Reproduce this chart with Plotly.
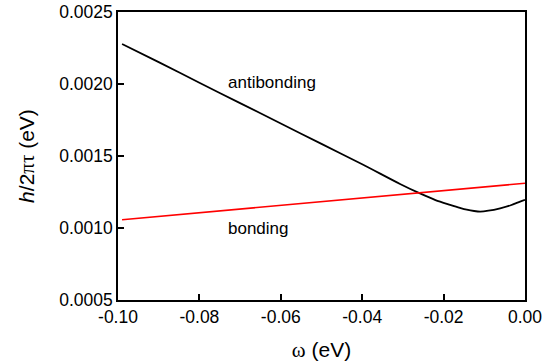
import plotly.graph_objects as go

# antibonding (black) curve
omega_anti = [-0.099, -0.09, -0.08, -0.07, -0.06, -0.05, -0.04, -0.0307, -0.0258,
              -0.0220, -0.0184, -0.0160, -0.0143, -0.0125, -0.0110, -0.0090, -0.0061,
              -0.0035, -0.0012, 0.0]
h_anti = [0.002278, 0.002152, 0.002009, 0.001867, 0.001726, 0.001584, 0.001443, 0.001306,
          0.001240, 0.001194, 0.001161, 0.001140, 0.001127, 0.001118, 0.001114, 0.001120,
          0.001137, 0.001158, 0.001183, 0.001195]

# bonding (red) curve
omega_bond = [-0.099, -0.05, 0.0]
h_bond = [0.001057, 0.001183, 0.001311]

x_tickvals = [-0.10, -0.08, -0.06, -0.04, -0.02, 0.00]
x_ticktext = ["-0.10", "-0.08", "-0.06", "-0.04", "-0.02", "0.00"]
y_tickvals = [0.0005, 0.0010, 0.0015, 0.0020, 0.0025]
y_ticktext = ["0.0005", "0.0010", "0.0015", "0.0020", "0.0025"]

fig = go.Figure()
fig.add_trace(go.Scatter(x=omega_anti, y=h_anti, mode="lines",
                         line=dict(color="black", width=1.8, shape="spline", smoothing=0.8),
                         showlegend=False))
fig.add_trace(go.Scatter(x=omega_bond, y=h_bond, mode="lines",
                         line=dict(color="#ff0000", width=1.6), showlegend=False))

font = "Liberation Sans, Arial, sans-serif"
serif = "Liberation Serif, Times New Roman, serif"
fig.add_annotation(x=-0.0622, y=0.002009, text="antibonding", showarrow=False,
                   font=dict(family=font, size=17, color="black"))
fig.add_annotation(x=-0.0654, y=0.000994, text="bonding", showarrow=False,
                   font=dict(family=font, size=17, color="black"))

fig.update_layout(
    width=560, height=362,
    margin=dict(l=118, r=35, t=12, b=62),
    paper_bgcolor="white", plot_bgcolor="white",
    font=dict(family=font, size=17, color="black"),
)
fig.update_xaxes(
    range=[-0.10, 0.0], tickvals=x_tickvals, ticktext=x_ticktext,
    ticks="inside", ticklen=6, tickwidth=1.5, tickcolor="black",
    showline=True, linecolor="black", linewidth=1.6, mirror=True,
    showgrid=False, zeroline=False, automargin=False,
    tickfont=dict(size=17.5),
    title=dict(text=f'<span style="font-family:{serif}">ω</span> (eV)',
               font=dict(size=21), standoff=20),
)
fig.update_yaxes(
    range=[0.0005, 0.0025], tickvals=y_tickvals, ticktext=y_ticktext,
    ticks="inside", ticklen=6, tickwidth=1.5, tickcolor="black",
    showline=True, linecolor="black", linewidth=1.6, mirror=True,
    showgrid=False, zeroline=False, automargin=False,
    tickfont=dict(size=17.5),
    title=dict(text=f'<i>h</i>/2<span style="font-family:{serif}">πτ</span> (eV)',
               font=dict(size=21), standoff=19),
)

fig.write_html("out.html")
